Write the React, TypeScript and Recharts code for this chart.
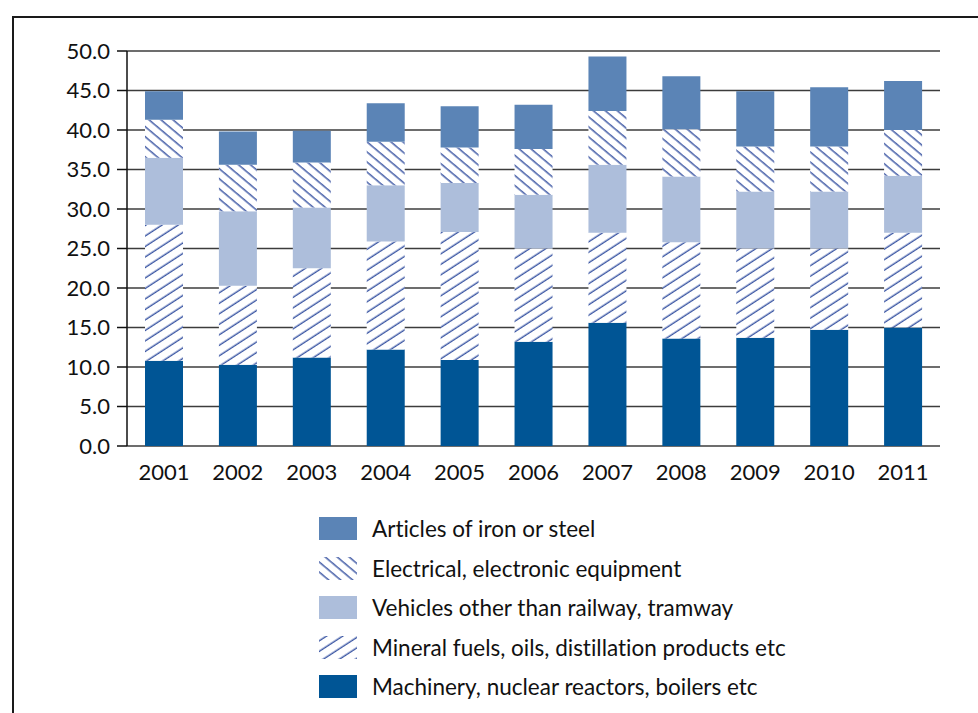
import { BarChart, Bar, XAxis, YAxis, CartesianGrid, Legend } from 'recharts';

const years = ['2001', '2002', '2003', '2004', '2005', '2006', '2007', '2008', '2009', '2010', '2011'];
const machinery = [10.8, 10.3, 11.2, 12.2, 10.9, 13.2, 15.6, 13.6, 13.7, 14.7, 15.0];
const mineral = [17.2, 10.0, 11.3, 13.7, 16.2, 11.8, 11.4, 12.2, 11.3, 10.3, 12.0];
const vehicles = [8.5, 9.4, 7.7, 7.1, 6.2, 6.8, 8.6, 8.3, 7.2, 7.2, 7.2];
const electrical = [4.8, 5.9, 5.7, 5.5, 4.5, 5.8, 6.8, 6.0, 5.7, 5.7, 5.8];
const articles = [3.6, 4.2, 4.0, 4.9, 5.2, 5.6, 6.9, 6.7, 7.0, 7.5, 6.2];
const yTicks = [0, 5, 10, 15, 20, 25, 30, 35, 40, 45, 50];

const SERIES = [
  { key: 'machinery', name: 'Machinery, nuclear reactors, boilers etc', fill: '#005595' },
  { key: 'mineral', name: 'Mineral fuels, oils, distillation products etc', fill: 'url(#hatchFwd)' },
  { key: 'vehicles', name: 'Vehicles other than railway, tramway', fill: '#adbedb' },
  { key: 'electrical', name: 'Electrical, electronic equipment', fill: 'url(#hatchBack)' },
  { key: 'articles', name: 'Articles of iron or steel', fill: '#5b84b6' },
];

const data = years.map((year, i) => ({
  year,
  machinery: machinery[i],
  mineral: mineral[i],
  vehicles: vehicles[i],
  electrical: electrical[i],
  articles: articles[i],
}));

const edgeTicks = [...years.map((_, i) => i), years.length];
const FONT = 'Lato, "Open Sans", sans-serif';
const HATCH = '#3a55a3';

function LegendBox() {
  const rows = [...SERIES].reverse();
  return (
    <div style={{ fontFamily: FONT, fontSize: 22.5, color: '#111', fontVariantLigatures: 'none' }}>
      {rows.map((s) => (
        <div key={s.key} style={{ display: 'flex', alignItems: 'center', height: 39.5 }}>
          <svg width={38} height={23} style={{ marginRight: 15, flexShrink: 0 }}>
            <rect width={38} height={23} fill={s.fill} />
          </svg>
          <span style={{ whiteSpace: 'nowrap' }}>{s.name}</span>
        </div>
      ))}
    </div>
  );
}

export default function App() {
  return (
    <div style={{ position: 'absolute', left: 0, top: 0, width: 978, height: 713, background: '#fff', overflow: 'hidden' }}>
      <div
        style={{
          position: 'absolute',
          left: 12,
          top: 16,
          width: 1100,
          height: 900,
          borderLeft: '2px solid #1a1a1a',
          borderTop: '2px solid #1a1a1a',
        }}
      />
      <div style={{ position: 'absolute', left: 0, top: 0 }}>
        <BarChart width={978} height={713} data={data} margin={{ top: 51, right: 38, left: 0, bottom: 227 }} barSize={38}>
          <defs>
            <pattern id="hatchBack" patternUnits="userSpaceOnUse" width={8} height={7.7} patternTransform="rotate(40)">
              <rect width={8} height={7.7} fill="#fff" />
              <rect y={3} width={8} height={1.4} fill={HATCH} />
            </pattern>
            <pattern id="hatchFwd" patternUnits="userSpaceOnUse" width={8} height={8.8} patternTransform="rotate(-33)">
              <rect width={8} height={8.8} fill="#fff" />
              <rect y={3.5} width={8} height={1.4} fill={HATCH} />
            </pattern>
          </defs>
          <CartesianGrid vertical={false} stroke="#3c3c3c" strokeWidth={1.5} />
          <XAxis
            xAxisId="edges"
            type="number"
            domain={[0, years.length]}
            ticks={edgeTicks}
            height={0}
            tickSize={9}
            tickFormatter={() => ''}
            stroke="#111"
            strokeWidth={1.5}
            interval={0}
          />
          <XAxis
            dataKey="year"
            height={40}
            axisLine={false}
            tickLine={false}
            tickMargin={12}
            interval={0}
            tick={{ fill: '#111', fontSize: 22, fontFamily: FONT }}
          />
          <YAxis
            domain={[0, 50]}
            ticks={yTicks}
            width={127}
            tickSize={10}
            tickMargin={7}
            tickFormatter={(v: number) => v.toFixed(1)}
            stroke="#111"
            strokeWidth={1.5}
            tick={{ fill: '#111', fontSize: 22, fontFamily: FONT }}
          />
          <YAxis yAxisId="right" orientation="right" width={0} tick={false} tickLine={false} stroke="#555" strokeWidth={1.5} />
          {SERIES.map((s) => (
            <Bar key={s.key} dataKey={s.key} name={s.name} stackId="a" fill={s.fill} isAnimationActive={false} />
          ))}
          <Legend
            layout="vertical"
            align="center"
            verticalAlign="middle"
            content={() => <LegendBox />}
            wrapperStyle={{ left: 319, top: 509, width: 560, height: 200 }}
          />
        </BarChart>
      </div>
    </div>
  );
}
